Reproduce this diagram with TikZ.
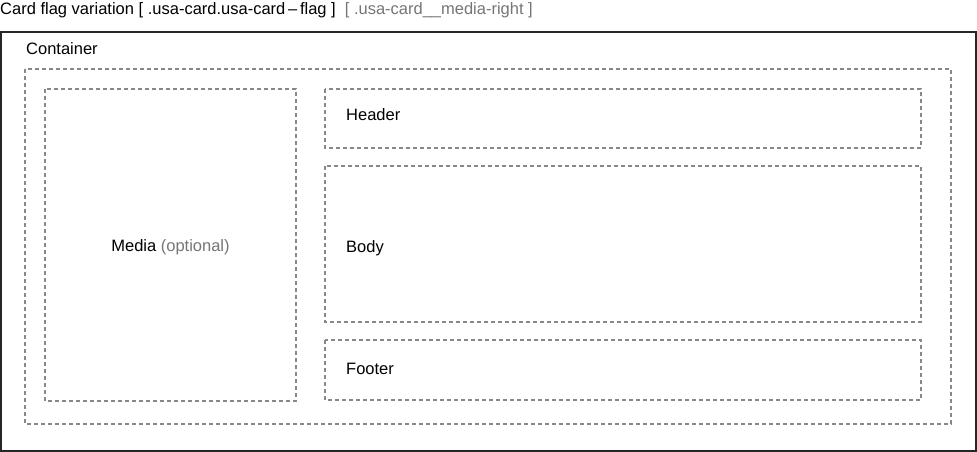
\documentclass[tikz,border=0pt]{standalone}
\usepackage{fontspec}
\setmainfont{Liberation Sans}
\definecolor{dgray}{HTML}{888888}
\definecolor{tgray}{HTML}{767676}
\begin{document}
\begin{tikzpicture}[x=1pt,y=-1pt,
  dbox/.style={draw=dgray,line width=1.3pt,dash pattern=on 4pt off 3pt},
  lbl/.style={font=\fontsize{16.5}{19}\selectfont,inner sep=0pt,anchor=west}]
\useasboundingbox (0,0) rectangle (977,452);
\fill[white] (0,0) rectangle (977,452);
\node[lbl,anchor=base west] (title) at (0,15) {Card flag variation [ .usa-card.usa-card\,–\,flag ]\hspace{9pt}\textcolor{tgray}{[ .usa-card\_\_media-right ]}};
\draw[line width=1.5pt,draw=black!85] (1,32) rectangle (976,451);
\node[lbl] (container) at (26,49) {Container};
\draw[dbox] (25,69) rectangle (951,424);
\draw[dbox] (45,89) rectangle (296,401);
\node[lbl,anchor=center] (media) at (170.5,247) {Media \textcolor{tgray}{(optional)}};
\draw[dbox] (325,89) rectangle (921,148);
\node[lbl] (header) at (346,115) {Header};
\draw[dbox] (325,166) rectangle (921,322);
\node[lbl] (body) at (346,248) {Body};
\draw[dbox] (325,340) rectangle (921,400);
\node[lbl] (footer) at (346,369) {Footer};
\end{tikzpicture}
\end{document}
